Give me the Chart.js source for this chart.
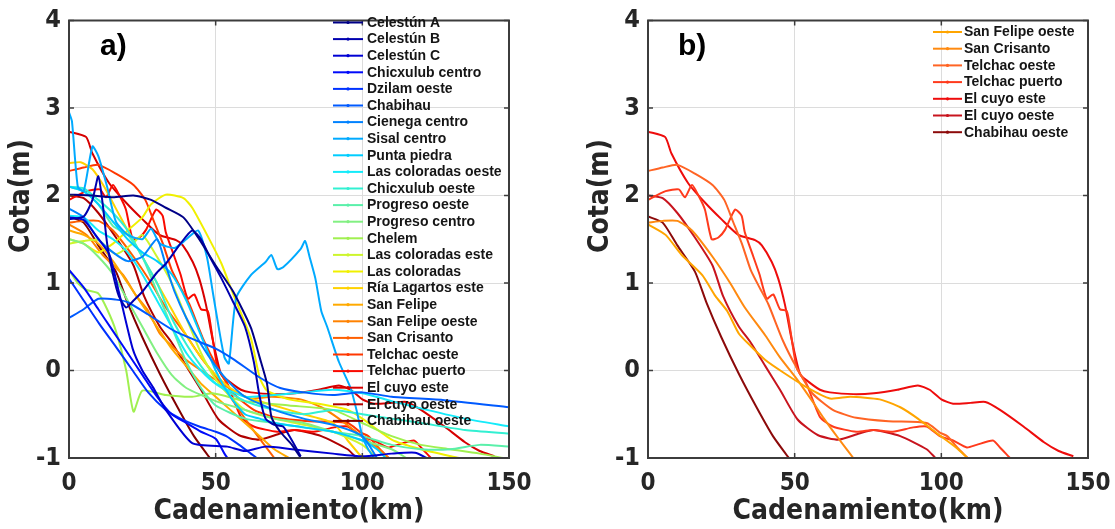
<!DOCTYPE html>
<html>
<head>
<meta charset="utf-8">
<script src="https://cdn.jsdelivr.net/npm/chart.js@4.4.1/dist/chart.umd.min.js"></script>
<style>
html, body { margin: 0; padding: 0; background: #fff; overflow: hidden; }
#wrap { position: relative; width: 1115px; height: 529px; }
.panel { position: absolute; top: 0; height: 529px; }
#pa { left: 0; width: 557px; }
#pb { left: 557px; width: 558px; }
</style>
</head>
<body>
<div id="wrap">
  <div class="panel" id="pa"><canvas id="chartA"></canvas></div>
  <div class="panel" id="pb"><canvas id="chartB"></canvas></div>
</div>
<script>
// perfiles: [cadenamiento km, cota m]
const celestunA = [[0,2.01],[8,2.0],[15,1.98],[22,2.0],[28,1.95],[33,1.86],[39,1.75],[44,1.52],[50,1.2],[56,0.9],[62,0.49],[65,0.15],[67.5,-0.15],[69,-0.53],[72,-0.7],[76,-0.85],[79,-1.0]];
const celestunB = [[0,1.73],[5,1.76],[8,1.95],[10,2.22],[11.5,1.9],[13,1.45],[15,1.1],[17,0.85],[19.5,0.72],[22,0.8],[25,0.9],[30,1.12],[33,1.22],[38,1.45],[42,1.6],[45,1.5],[48,1.3],[52,1.05],[56,0.78],[60,0.5],[63,0.1],[65,-0.3],[67,-0.55],[70,-0.62],[73,-0.64],[76,-0.8],[79,-0.98]];
const celestunC = [[0,1.75],[5,1.72],[9,1.55],[13.7,1.33],[17,0.9],[21.7,0.25],[25,0.0],[28.6,-0.19],[33,-0.45],[42,-0.83],[54,-0.87],[60,-0.92],[67,-0.87],[76,-0.9],[90,-0.95],[100,-0.98],[110,-0.95],[118,-0.94],[122,-1.0]];
const chicxulubCentro = [[0,1.15],[5,0.95],[10,0.7],[15,0.45],[20,0.2],[25,-0.05],[30,-0.3],[35,-0.5],[40,-0.6],[45,-0.7],[50,-0.78],[53,-0.95],[54,-1.0]];
const dzilamOeste = [[0,1.05],[5,0.8],[10.4,0.53],[16,0.27],[21.7,0.0],[27,-0.25],[33,-0.45],[38,-0.55],[44.4,-0.64],[50,-0.7],[53.6,-0.75],[58,-0.85],[62,-0.95],[64,-1.0]];
const chabihau = [[0,0.6],[5,0.7],[10,0.82],[16,0.81],[20,0.78],[27,0.64],[36,0.45],[45,0.32],[50,0.25],[56,0.13],[65,-0.08],[72,-0.2],[80,-0.25],[90,-0.28],[100,-0.25],[110,-0.3],[128,-0.34],[150,-0.42]];
const cienegaCentro = [[0,1.85],[5,1.75],[10,1.5],[15,1.35],[20,1.25],[25,1.3],[30,1.5],[33,1.2],[36,0.9],[40,0.6],[45,0.3],[50,0.05],[55,-0.15],[60,-0.3],[70,-0.45],[80,-0.55],[90,-0.62],[100,-0.75],[105,-1.0]];
const sisalCentro = [[0,2.95],[1,2.85],[3,2.1],[5,2.05],[8,2.56],[10,2.45],[13,2.1],[16,1.7],[20,1.55],[25,1.5],[28,1.62],[31,1.45],[36,1.4],[40,1.5],[44,1.6],[47,1.3],[49,0.9],[51,0.5],[53,0.15],[54.5,0.08],[57,0.83],[62,1.09],[67,1.24],[69,1.32],[71,1.16],[73,1.18],[79,1.39],[80.5,1.48],[82,1.3],[84,1.05],[86,0.68],[88,0.5],[92,0.1],[96,-0.2],[98,-0.45],[100,-0.75],[102,-0.9],[104,-1.0]];
const puntaPiedra = [[0,2.1],[5,2.05],[10,1.9],[15,1.7],[20,1.5],[25,1.35],[30,1.25],[35,1.1],[40,0.8],[45,0.4],[50,0.0],[55,-0.3],[60,-0.5],[65,-0.55],[70,-0.6],[80,-0.65],[90,-0.7],[100,-0.8],[105,-0.9],[108,-1.0]];
const lasColoradasOeste = [[0,1.77],[5,1.75],[10,1.6],[15,1.5],[20,1.35],[25,1.1],[30,0.8],[35,0.5],[40,0.2],[45,0.0],[50,-0.15],[60,-0.3],[70,-0.28],[80,-0.25],[90,-0.22],[100,-0.26],[110,-0.35],[122,-0.45],[135,-0.55],[150,-0.64]];
const chicxulubOeste = [[0,2.1],[5,2.08],[10,1.95],[15,1.8],[20,1.6],[25,1.3],[30,1.0],[35,0.6],[40,0.3],[45,0.05],[50,-0.15],[60,-0.35],[70,-0.45],[80,-0.5],[90,-0.45],[100,-0.5],[110,-0.55],[120,-0.6],[135,-0.68],[150,-0.72]];
const progresoOeste = [[0,2.1],[5,2.05],[10,1.9],[15,1.65],[20,1.55],[25,1.3],[30,0.9],[35,0.5],[40,0.1],[45,-0.2],[50,-0.4],[60,-0.55],[70,-0.6],[80,-0.65],[90,-0.7],[100,-0.75],[110,-0.85],[120,-0.9],[130,-0.9],[140,-0.85],[150,-0.87]];
const progresoCentro = [[0,1.5],[5,1.45],[10,1.3],[15,1.1],[20,0.8],[25,0.5],[30,0.2],[35,-0.05],[40,-0.2],[50,-0.35],[60,-0.45],[70,-0.55],[80,-0.6],[90,-0.7],[100,-0.8],[110,-0.9],[115,-1.0]];
const chelem = [[0,1.15],[3,1.0],[6,0.92],[10,0.88],[13,0.7],[16,0.45],[19.5,0.0],[22,-0.47],[25,-0.23],[33,-0.28],[42,-0.3],[49,-0.26],[60,-0.35],[75,-0.4],[90,-0.45],[100,-0.6],[110,-0.75],[120,-0.85],[130,-0.9],[140,-0.95],[148,-1.0]];
const lasColoradasEste = [[0,1.45],[5,1.48],[10,1.49],[16,1.33],[21.7,1.45],[25,1.55],[30,1.3],[35,1.0],[40,0.6],[45,0.2],[50,-0.1],[55,-0.3],[60,-0.45],[70,-0.55],[80,-0.62],[90,-0.7],[100,-0.85],[105,-1.0]];
const lasColoradas = [[0,1.5],[5,1.45],[10,1.35],[15,1.45],[20,1.6],[25,1.75],[28,1.9],[33,2.01],[39,1.97],[42,1.86],[48,1.49],[52,1.22],[56,0.87],[62,0.37],[65,-0.08],[67.5,-0.23],[75,-0.33],[85,-0.38],[95,-0.45],[100,-0.55],[110,-0.79],[120,-0.9],[133,-1.0]];
const riaLagartosEste = [[0,2.37],[4,2.38],[8,2.3],[12,2.1],[16,1.85],[20,1.6],[25,1.3],[30,1.0],[35,0.7],[40,0.4],[45,0.15],[50,-0.05],[55,-0.2],[60,-0.3],[70,-0.4],[80,-0.5],[90,-0.6],[95,-0.8],[100,-1.0]];
const sanFelipe = [[0,1.6],[5,1.55],[10,1.45],[15,1.25],[20,1.0],[25,0.75],[30,0.5],[35,0.25],[40,0.05],[45,-0.15],[50,-0.3],[55,-0.45],[60,-0.6],[65,-0.75],[70,-0.9],[75,-1.0]];
const sanFelipeOeste = [[0,1.67],[6,1.55],[11.5,1.32],[18.5,1.09],[23,0.85],[27,0.68],[31,0.42],[35,0.28],[40,0.12],[46,-0.02],[54,-0.19],[62,-0.32],[69,-0.3],[79,-0.33],[86,-0.42],[92,-0.55],[99,-0.73],[105,-0.88],[109,-1.0]];
const sanCrisanto = [[0,1.69],[5,1.71],[10,1.71],[15,1.6],[22,1.3],[28,1.0],[33,0.72],[40,0.4],[45,0.15],[51,-0.11],[56,-0.35],[60,-0.55],[65,-0.78],[70,-1.0]];
const telchacOeste = [[0,2.28],[5,2.32],[10,2.35],[16,2.25],[22,2.12],[26,1.95],[29,1.7],[32,1.45],[35,1.15],[38,0.95],[41,0.76],[46,0.34],[50.7,0.03],[56,-0.26],[63,-0.45],[71,-0.54],[82,-0.58],[95,-0.6],[99.5,-0.71],[102,-0.75],[106,-0.9],[109,-1.0]];
const telchacPuerto = [[0,1.95],[6,2.05],[10.5,2.07],[12.6,1.98],[15,2.12],[17.2,2.0],[19.4,1.84],[21.7,1.5],[24,1.52],[26.3,1.61],[29.7,1.84],[31.9,1.77],[33,1.58],[35.4,1.35],[38,1.1],[40.5,0.82],[42.7,0.87],[45,0.7],[47.3,0.68],[48.4,0.49],[50.7,0.03],[54,-0.15],[58.6,-0.53],[63,-0.64],[71,-0.7],[76.7,-0.68],[83.5,-0.7],[90.4,-0.65],[95,-0.64],[99.5,-0.75],[104,-0.8],[108.7,-0.88],[112,-0.85],[117.6,-0.8],[120,-0.88],[122,-0.95],[123.4,-1.0]];
const elCuyoEste = [[0,2.73],[5.8,2.67],[8,2.48],[13.7,2.14],[19.4,1.92],[25,1.73],[30.8,1.55],[36.5,1.49],[38.8,1.43],[42.2,1.24],[44.4,1.05],[46.7,0.75],[49,0.35],[51.8,-0.04],[54,-0.11],[58.6,-0.22],[62,-0.25],[70,-0.27],[77,-0.26],[85,-0.22],[92,-0.17],[96,-0.22],[100,-0.33],[104,-0.38],[110,-0.37],[115,-0.36],[120,-0.45],[128,-0.64],[135,-0.82],[140,-0.92],[145,-0.98]];
const elCuyoOeste = [[0,2.0],[5,1.97],[10,1.8],[16,1.52],[22,1.2],[25.6,0.85],[31,0.5],[35,0.32],[40,0.05],[45,-0.22],[51,-0.56],[58,-0.74],[65,-0.79],[72,-0.72],[77,-0.68],[86,-0.75],[95,-0.9],[98,-1.0]];
const chabihauOeste = [[0,1.76],[5,1.69],[10,1.43],[16,1.13],[20,0.77],[25,0.38],[31,-0.04],[37,-0.42],[42.6,-0.75],[48,-1.0]];

const namesA = ['Celestún A', 'Celestún B', 'Celestún C', 'Chicxulub centro', 'Dzilam oeste', 'Chabihau',
  'Cienega centro', 'Sisal centro', 'Punta piedra', 'Las coloradas oeste', 'Chicxulub oeste', 'Progreso oeste',
  'Progreso centro', 'Chelem', 'Las coloradas este', 'Las coloradas', 'Ría Lagartos este', 'San Felipe',
  'San Felipe oeste', 'San Crisanto', 'Telchac oeste', 'Telchac puerto', 'El cuyo este', 'El cuyo oeste', 'Chabihau oeste'];
const profilesA = [celestunA, celestunB, celestunC, chicxulubCentro, dzilamOeste, chabihau,
  cienegaCentro, sisalCentro, puntaPiedra, lasColoradasOeste, chicxulubOeste, progresoOeste,
  progresoCentro, chelem, lasColoradasEste, lasColoradas, riaLagartosEste, sanFelipe,
  sanFelipeOeste, sanCrisanto, telchacOeste, telchacPuerto, elCuyoEste, elCuyoOeste, chabihauOeste];
const namesB = namesA.slice(18);
const profilesB = profilesA.slice(18);

const xTicks = [0, 50, 100, 150];
const yTicks = [-1, 0, 1, 2, 3, 4];

// jet-like colours for a), autumn-like for b)
const coloursA = ['rgb(0,0,135)', 'rgb(0,0,175)', 'rgb(0,0,212)', 'rgb(0,10,250)', 'rgb(0,50,255)', 'rgb(0,90,255)',
  'rgb(0,130,255)', 'rgb(0,170,255)', 'rgb(0,205,255)', 'rgb(20,235,250)', 'rgb(50,240,210)', 'rgb(90,240,170)',
  'rgb(130,240,130)', 'rgb(160,240,80)', 'rgb(205,245,45)', 'rgb(240,240,0)', 'rgb(255,210,0)', 'rgb(255,170,0)',
  'rgb(255,130,0)', 'rgb(255,95,0)', 'rgb(255,55,0)', 'rgb(250,10,0)', 'rgb(215,0,0)', 'rgb(175,0,0)', 'rgb(130,0,0)'];
const coloursB = ['#ffa500', '#ff8a10', '#ff6424', '#ff3a1c', '#ee0c0c', '#c8141e', '#8c0a0a'];

const narrow = "'DejaVu Sans Condensed', 'Liberation Sans Narrow', sans-serif";
const plain = "'Liberation Sans', Arial, sans-serif";

const framePlugin = {
  id: 'frame',
  afterDraw(chart, args, o) {
    const { ctx, chartArea: a, scales } = chart;
    ctx.save();
    // inward tick marks
    ctx.strokeStyle = '#3c3c3c';
    ctx.lineWidth = 1.5;
    xTicks.forEach(v => {
      const px = scales.x.getPixelForValue(v);
      ctx.beginPath();
      ctx.moveTo(px, a.bottom); ctx.lineTo(px, a.bottom - 5);
      ctx.moveTo(px, a.top); ctx.lineTo(px, a.top + 5);
      ctx.stroke();
    });
    yTicks.forEach(v => {
      const py = scales.y.getPixelForValue(v);
      ctx.beginPath();
      ctx.moveTo(a.left, py); ctx.lineTo(a.left + 5, py);
      ctx.moveTo(a.right, py); ctx.lineTo(a.right - 5, py);
      ctx.stroke();
    });
    ctx.lineWidth = 2;
    ctx.strokeRect(a.left, a.top, a.width, a.height);

    // y axis title, sits a little above the middle as in the original figure
    ctx.save();
    ctx.translate(a.left - o.yTitleDx, o.yTitleY);
    ctx.rotate(-Math.PI / 2);
    ctx.font = 'bold 28px ' + narrow;
    ctx.fillStyle = '#262626';
    ctx.textAlign = 'center';
    ctx.textBaseline = 'middle';
    ctx.fillText('Cota(m)', 0, 0);
    ctx.restore();

    // panel tag
    ctx.fillStyle = '#000';
    ctx.font = 'bold 30px ' + plain;
    ctx.textBaseline = 'alphabetic';
    ctx.fillText(o.tag, a.left + o.tagDx, a.top + o.tagDy);

    // legend
    ctx.font = 'bold 14px ' + plain;
    ctx.textBaseline = 'middle';
    chart.data.datasets.forEach((ds, i) => {
      const y = o.legTop + i * o.legStep;
      ctx.strokeStyle = ds.borderColor;
      ctx.lineWidth = 2;
      ctx.beginPath();
      ctx.moveTo(o.legX0, y); ctx.lineTo(o.legX1, y);
      ctx.stroke();
      ctx.fillStyle = ds.borderColor;
      ctx.beginPath();
      ctx.arc((o.legX0 + o.legX1) / 2, y, 1.6, 0, Math.PI * 2);
      ctx.fill();
      ctx.fillStyle = '#151515';
      ctx.fillText(ds.label, o.legText, y + 0.5);
    });
    ctx.restore();
  }
};

function makeChart(id, names, profiles, colours, pad, frame) {
  return new Chart(document.getElementById(id), {
    type: 'line',
    data: {
      datasets: profiles.map((p, i) => ({
        label: names[i],
        data: p.map(d => ({ x: d[0], y: d[1] })),
        borderColor: colours[i],
        backgroundColor: colours[i],
        borderWidth: 2,
        pointRadius: 0,
        tension: 0.2,
        fill: false
      }))
    },
    options: {
      responsive: true,
      maintainAspectRatio: false,
      animation: false,
      layout: { padding: pad },
      plugins: {
        legend: { display: false },
        tooltip: { enabled: false },
        frame: frame
      },
      scales: {
        x: {
          type: 'linear', min: 0, max: 150,
          afterBuildTicks: s => { s.ticks = xTicks.map(v => ({ value: v })); },
          // fixed box: the layout padding already leaves room for the end labels
          afterFit: s => { s.height = 71; s.paddingLeft = 0; s.paddingRight = 0; },
          ticks: { color: '#262626', padding: 14, maxRotation: 0, font: { family: narrow, size: 24, weight: 'bold', lineHeight: 1 } },
          grid: { color: '#dcdcdc', lineWidth: 1, drawTicks: false },
          border: { display: false },
          title: { display: true, text: 'Cadenamiento(km)', color: '#262626', padding: { top: 0, bottom: 0 },
                   font: { family: narrow, size: 28, weight: 'bold' } }
        },
        y: {
          type: 'linear', min: -1, max: 4,
          afterBuildTicks: s => { s.ticks = yTicks.map(v => ({ value: v })); },
          afterFit: s => { s.width = 69; },
          ticks: { color: '#262626', padding: 8, font: { family: narrow, size: 25, weight: 'bold', lineHeight: 1 } },
          grid: { color: '#dcdcdc', lineWidth: 1, drawTicks: false },
          border: { display: false },
          title: { display: false, text: 'Cota(m)' }
        }
      }
    },
    plugins: [framePlugin]
  });
}

makeChart('chartA', namesA, profilesA, coloursA,
  { left: 0, right: 48, top: 15, bottom: 0 },
  { tag: 'a)', tagDx: 31, tagDy: 34, legX0: 333, legX1: 363, legText: 367, legTop: 22.5, legStep: 16.6,
    yTitleDx: 47, yTitleY: 196 });

makeChart('chartB', namesB, profilesB, coloursB,
  { left: 22, right: 27, top: 15, bottom: 0 },
  { tag: 'b)', tagDx: 30, tagDy: 34, legX0: 376, legX1: 405, legText: 407, legTop: 32, legStep: 16.7,
    yTitleDx: 47, yTitleY: 196 });
</script>
</body>
</html>
